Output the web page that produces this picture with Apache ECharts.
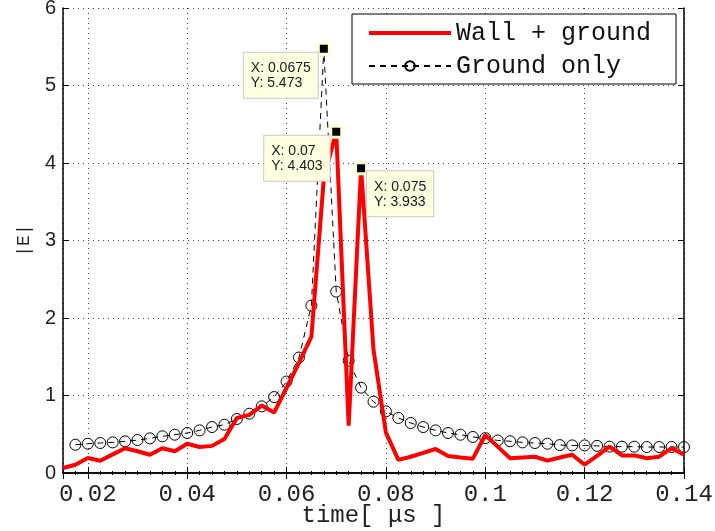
<!DOCTYPE html>
<html>
<head>
<meta charset="utf-8">
<script src="https://cdn.jsdelivr.net/npm/echarts@6/dist/echarts.min.js"></script>
<style>
    html, body { margin: 0; padding: 0; background: #fff; }
    #chart { width: 715px; height: 531px; }
</style>
</head>
<body>
<div id="chart"></div>
<script>
// time axis samples (µs)
var timeWall = [0.015, 0.0175, 0.02, 0.0225, 0.025, 0.0275, 0.03, 0.0325, 0.035, 0.0375,
    0.04, 0.0425, 0.045, 0.0475, 0.05, 0.0525, 0.055, 0.0575, 0.06, 0.0625,
    0.065, 0.0675, 0.07, 0.0725, 0.075, 0.0775, 0.08, 0.0825, 0.085, 0.0875,
    0.09, 0.0925, 0.095, 0.0975, 0.1, 0.1025, 0.105, 0.1075, 0.11, 0.1125,
    0.115, 0.1175, 0.12, 0.1225, 0.125, 0.1275, 0.13, 0.1325, 0.135, 0.1375, 0.14]
var wallGround = [0.065, 0.107, 0.193, 0.159, 0.24, 0.32, 0.28, 0.236, 0.32, 0.28,
    0.378, 0.335, 0.35, 0.44, 0.71, 0.75, 0.87, 0.78, 1.1, 1.42,
    1.76, 3.8, 4.403, 0.61, 3.933, 1.59, 0.52, 0.17, 0.21, 0.26,
    0.31, 0.22, 0.2, 0.185, 0.49, 0.34, 0.19, 0.2, 0.21, 0.16,
    0.2, 0.236, 0.107, 0.22, 0.34, 0.227, 0.227, 0.19, 0.21, 0.32, 0.236]

var timeGround = [0.0175, 0.02, 0.0225, 0.025, 0.0275, 0.03, 0.0325, 0.035, 0.0375,
    0.04, 0.0425, 0.045, 0.0475, 0.05, 0.0525, 0.055, 0.0575, 0.06, 0.0625,
    0.065, 0.0675, 0.07, 0.0725, 0.075, 0.0775, 0.08, 0.0825, 0.085, 0.0875,
    0.09, 0.0925, 0.095, 0.0975, 0.1, 0.1025, 0.105, 0.1075, 0.11, 0.1125,
    0.115, 0.1175, 0.12, 0.1225, 0.125, 0.1275, 0.13, 0.1325, 0.135, 0.1375, 0.14]
var groundOnly = [0.365, 0.378, 0.387, 0.395, 0.408, 0.425, 0.447, 0.473, 0.494,
    0.516, 0.55, 0.593, 0.623, 0.697, 0.765, 0.86, 0.98, 1.18, 1.49,
    2.16, 5.473, 2.34, 1.45, 1.10, 0.92, 0.795, 0.71, 0.645, 0.593,
    0.55, 0.516, 0.494, 0.465, 0.45, 0.42, 0.41, 0.395, 0.387, 0.378,
    0.36, 0.356, 0.356, 0.35, 0.34, 0.34, 0.34, 0.335, 0.335, 0.336, 0.335]

var seriesNames = ['Wall + ground', 'Ground only']

// data tips: [x, y]
var tipGround = [[0.0675, 5.473]]
var tipWall = [[0.07, 4.403], [0.075, 3.933]]

function pairs(xs, ys) {
    var out = []
    for (let i = 0; i < xs.length; i++) out.push([xs[i], ys[i]])
    return out
}

function tipLabel(p, pos) {
    return {
        coord: p,
        label: {
            show: true,
            formatter: 'X: ' + p[0] + '\nY: ' + p[1],
            position: pos,
            align: 'left',
            verticalAlign: 'top',
            backgroundColor: '#ffffe1',
            borderColor: '#c8c8c8',
            borderWidth: 1,
            padding: [8, 7, 7, 7],
            fontFamily: 'Liberation Sans',
            fontSize: 14,
            lineHeight: 15,
            color: '#1a1a1a'
        }
    }
}

var tipMark = {
    symbol: 'rect',
    symbolSize: 11,
    itemStyle: { color: '#000', borderColor: '#ffffd6', borderWidth: 3 },
    z: 10,
    silent: true
}

var myChart = echarts.init(document.getElementById('chart'))

var axisLineStyle = { lineStyle: { color: '#000', width: 1.5 } }

option = {
    animation: false,
    backgroundColor: '#fff',
    grid: { left: 63, right: 31, top: 8, bottom: 58, containLabel: false, outerBoundsMode: 'none' },
    legend: {
        data: [
            { name: seriesNames[0], icon: 'path://M0,0h82v4h-82z' },
            { name: seriesNames[1] }
        ],
        orient: 'vertical',
        left: 352,
        top: 14,
        backgroundColor: '#fff',
        borderColor: '#000',
        borderWidth: 1,
        padding: [6, 25, 5, 16],
        itemGap: 7,
        itemWidth: 82,
        itemHeight: 12,
        symbolKeepAspect: true,
        textStyle: { fontFamily: 'Liberation Mono', fontSize: 25, color: '#111', lineHeight: 26 }
    },
    xAxis: [{
        type: 'value',
        min: 0.015,
        max: 0.14,
        splitNumber: 6,
        position: 'bottom',
        name: 'time[ μs ]',
        nameLocation: 'middle',
        nameGap: 31,
        nameMoveOverlap: false,
        nameTextStyle: { fontFamily: 'Liberation Mono', fontSize: 24, color: '#222' },
        axisLine: axisLineStyle,
        axisTick: { inside: true, length: 6, lineStyle: { color: '#000' } },
        minorTick: { show: true, splitNumber: 8, length: 2, lineStyle: { color: '#000' } },
        axisLabel: { showMinLabel: false, fontFamily: 'Liberation Mono', fontSize: 24, color: '#222', margin: 10 },
        splitLine: { show: true, lineStyle: { type: [1, 4], color: '#444' } }
    }, {
        type: 'value',
        min: 0.015,
        max: 0.14,
        splitNumber: 6,
        position: 'top',
        axisLine: axisLineStyle,
        axisTick: { inside: true, length: 6, lineStyle: { color: '#000' } },
        minorTick: { show: true, splitNumber: 8, length: 2, lineStyle: { color: '#000' } },
        axisLabel: { show: false },
        splitLine: { show: false }
    }],
    yAxis: [{
        type: 'value',
        min: 0,
        max: 6,
        interval: 1,
        position: 'left',
        name: '|E|',
        nameLocation: 'middle',
        nameGap: 30,
        nameMoveOverlap: false,
        nameTextStyle: { fontFamily: 'Liberation Mono', fontSize: 18, color: '#222' },
        axisLine: { show: true, lineStyle: { color: '#000', width: 1.5 } },
        axisTick: { show: true, inside: true, length: 6, lineStyle: { color: '#000' } },
        axisLabel: { fontFamily: 'Liberation Sans', fontSize: 20, color: '#222', margin: 7 },
        splitLine: { show: true, lineStyle: { type: [1, 4], color: '#444' } }
    }, {
        type: 'value',
        min: 0,
        max: 6,
        interval: 1,
        position: 'right',
        axisLine: { show: true, lineStyle: { color: '#000', width: 1.5 } },
        axisTick: { show: true, inside: true, length: 6, lineStyle: { color: '#000' } },
        axisLabel: { show: false },
        splitLine: { show: false }
    }],
    series: [{
        name: seriesNames[0],
        type: 'line',
        data: pairs(timeWall, wallGround),
        showSymbol: false,
        symbol: 'none',
        lineStyle: { color: '#ff0000', width: 4 },
        itemStyle: { color: '#ff0000' },
        z: 3,
        markPoint: Object.assign({}, tipMark, {
            data: [
                tipLabel(tipWall[0], [-65, 11]),
                tipLabel(tipWall[1], [13, 10])
            ]
        })
    }, {
        name: seriesNames[1],
        type: 'line',
        data: pairs(timeGround, groundOnly),
        symbol: 'circle',
        symbolSize: 11,
        lineStyle: { color: '#000', width: 1, type: [6, 5] },
        itemStyle: { color: 'rgba(255,255,255,0)', borderColor: '#000', borderWidth: 1 },
        z: 2,
        markPoint: Object.assign({}, tipMark, {
            data: [tipLabel(tipGround[0], [-73, 11])]
        })
    }]
}

myChart.setOption(option)
window.addEventListener("resize", function () {
    myChart.resize()
})
</script>
</body>
</html>
